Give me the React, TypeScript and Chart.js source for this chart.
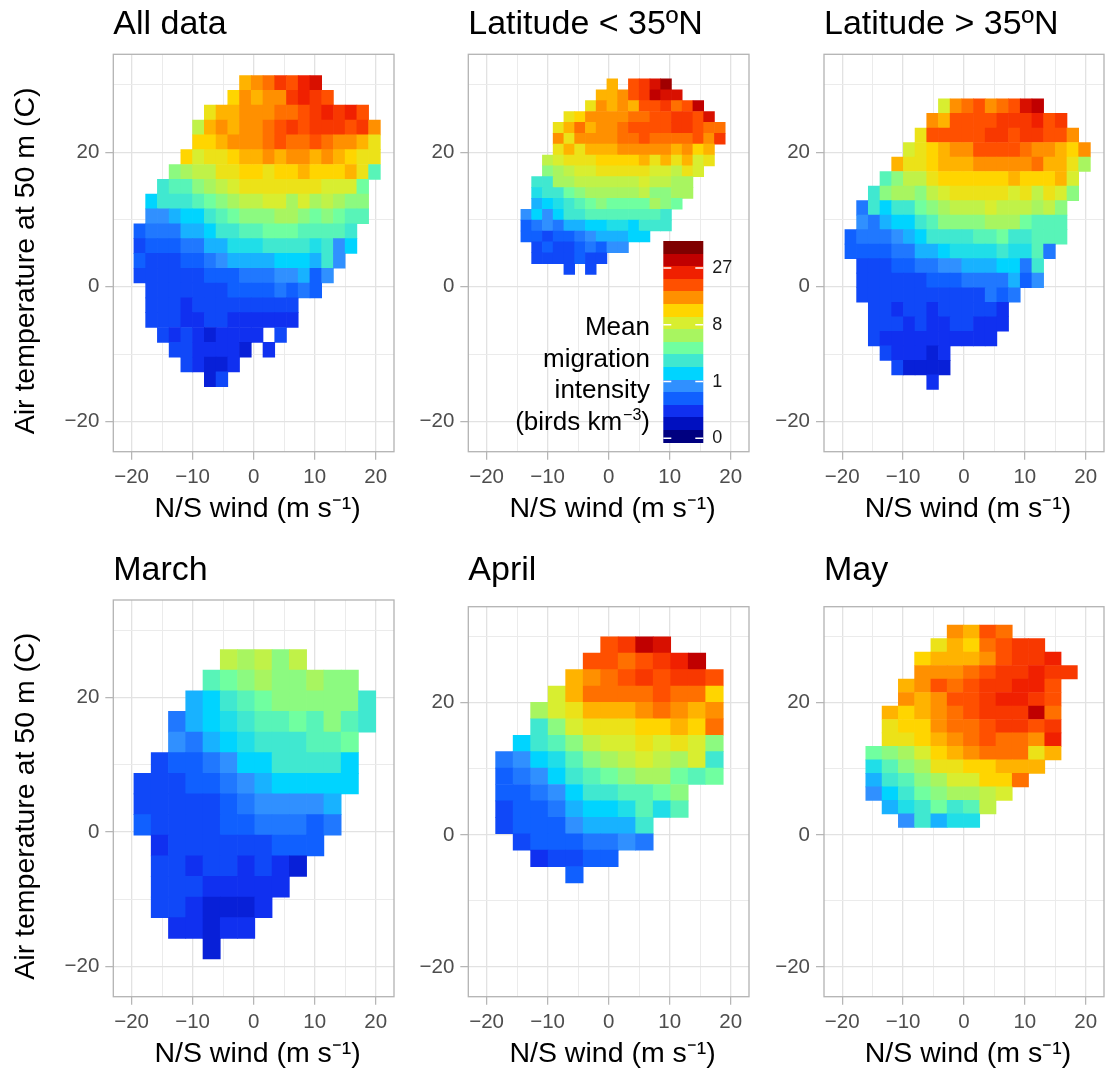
import React, { useEffect, useRef } from "react";
import { Chart, registerables } from "chart.js";

Chart.register(...registerables);
Chart.defaults.font.family = "'Liberation Sans', Arial, Helvetica, sans-serif";

// Each character is one cell: its step on the colour scale (half a legend band per step). '.' = no data.
const LEVEL_CODES = "0123456789abcdefghijklmnopqrstuv";

const panelTitles = ["All data", "Latitude < 35ºN", "Latitude > 35ºN", "March", "April", "May"];

// Bins: [first N/S wind edge, wind bin width, top temperature edge, temperature bin height]
const allDataBins = [-19.62, 1.923, 31.39, 2.202];
const allDataRows = [
  ".........lmnpoqr",
  "........kmlmmpqpo",
  "......jllmmmnnopqpqo",
  ".....hlmlmmnopopppopm",
  ".....kklmmmnonnonmmlj",
  "....kijjkllmlmmlmlkjj",
  "...fghhjjkkjkklkkkljd",
  "..cddfghijjjjjjjiiie",
  ".acccdefghhiigighgff",
  ".889aacdefffggfefedd",
  "677799accddeeeddddc",
  "56667799bbbccccbc8a",
  "655566789999aaa9c8",
  "55555566677788968",
  ".555555566667676",
  ".5554555555555",
  ".5554455444444",
  "..545434444.5",
  "...5544443.4",
  "....54334",
  "......35",
];

const lowLatBins = [-14.38, 1.762, 30.89, 1.614];
const lowLatRows = [
  "........l.oprt",
  ".......llmopsrr",
  "......jmlmloopnos",
  "....jkmmmmnnooppor",
  "...jlnlmmnoooopponn",
  "...mjmmmmnnonnnnomp",
  "...jljlllmmmmmlmkl",
  "..hijjjkkkkljljlij",
  "..fghiijjjjjiihji",
  ".ccgghhhhhhihhgg",
  ".bccefggggghffgg",
  ".9abcdefeeeegfe",
  "8a8accdddddddc",
  "678799aabbaccc",
  "6656678999aa",
  ".565567688",
  ".5555655",
  "....5.5",
];

const highLatBins = [-19.56, 1.92, 27.92, 2.158];
const highLatRows = [
  "........imnomnors",
  ".......mloooopppqop",
  "......joooooppoppoom",
  ".....ijklmmoooonmmlkm",
  "....ljjklllmmmmmnlljg",
  "...dfhhjkkkkkklkkkli",
  "..cfggfhijjjjjijhjif",
  ".7caccefghhhihhhghf",
  ".879aacdffffgggeddd",
  "677789accccddeccddd",
  "66667799abbbbcbbd7",
  ".555667788999aa7c",
  ".5555556667777968",
  ".55555555555767",
  "..554554555554",
  "..555454455444",
  "..54444444444",
  "...544434",
  "....53333",
  ".......4",
];

const marchBins = [-19.62, 2.83, 27.17, 3.07];
const marchRows = [
  ".....hghfh",
  "....defgffgff",
  "...9acdefffffc",
  "..79abcddedfdc",
  "..879abcccdde",
  ".56678aacccca",
  "55566789aaaaa",
  "555556788889",
  "655556677767",
  ".4555555666",
  ".554554543",
  ".55544444",
  ".5543334",
  "..44344",
  "....3",
];

const aprilBins = [-18.52, 2.869, 30.0, 2.486];
const aprilRows = [
  "......opsr",
  ".....oonopqs",
  "....lmnopoppo",
  "...ilnnnnonnk",
  "..gijlllmnmlm",
  "..cfijjjkklkn",
  ".acdfhiijijif",
  "78abdfghihgic",
  "678acdefggede",
  "6678accddef",
  "56679aabdbd",
  "56668999c",
  ".56667787",
  "..45566",
  "....6",
];

const mayBins = [-16.13, 2.673, 31.77, 2.042];
const mayRows = [
  ".....mlon",
  "....jlknopp",
  "...klllmoppq",
  "...mmmnoppqpp",
  "..lmonoppqqo",
  "..mlmoopqqpo",
  ".lklmnopppsn",
  ".jkkmnnoppop",
  ".jjklmnonnmq",
  "efgiklmnnnjl",
  "bdfgjjkklll",
  "9cdfgiikkn",
  "8acefgghi",
  ".9bcecdh",
  "..8c9bb",
];

// Legend (colour steps, bottom to top) and its labelled values
const legendBandColors = [
  "#000080", "#0010C0", "#1030F0", "#1060FF", "#3090FF", "#00D4FF", "#40E8D0", "#70FFA0",
  "#A8F560", "#D8EE30", "#FFD500", "#FF9000", "#FF5000", "#F02000", "#C00000", "#7F0000",
];
const legendTickValues = [0, 1, 8, 27];
const legendTitleLines = ["Mean", "migration", "intensity"];

// cube-root legend scale: position in bands = 0.35 + 4.5 * cbrt(value)
const toBand = (v: number) => 0.35 + 4.5 * Math.cbrt(v);
const codeToValue = (k: number) => Math.pow(Math.max(0, (k / 2 + 0.15) / 4.5), 3);

function hexRgb(h: string) {
  return [parseInt(h.slice(1, 3), 16), parseInt(h.slice(3, 5), 16), parseInt(h.slice(5, 7), 16)];
}
function colourFor(v: number) {
  const u = Math.min(Math.max(toBand(v) - 0.5, 0), 15);
  const i = Math.min(Math.floor(u), 14);
  const f = u - i;
  const a = hexRgb(legendBandColors[i]);
  const b = hexRgb(legendBandColors[i + 1]);
  const c = a.map((x, j) => Math.round(x + (b[j] - x) * f));
  return `rgb(${c[0]},${c[1]},${c[2]})`;
}

type Cell = { x: number; y0: number; y1: number; v: number };
function decode(rows: string[], bins: number[]): Cell[] {
  const [x0, dx, top, dy] = bins;
  const out: Cell[] = [];
  rows.forEach((row, r) => {
    for (let c = 0; c < row.length; c++) {
      const k = LEVEL_CODES.indexOf(row[c]);
      if (k < 0) continue;
      out.push({ x: x0 + (c + 0.5) * dx, y0: top - (r + 1) * dy, y1: top - r * dy, v: codeToValue(k) });
    }
  });
  return out;
}

const fmt = (v: number) => (v < 0 ? "\u2212" + Math.abs(v) : String(v));

const borderPlugin = {
  id: "panelBorder",
  afterDraw(chart: any) {
    const { ctx, chartArea } = chart;
    ctx.save();
    ctx.strokeStyle = "#B3B3B3";
    ctx.lineWidth = 1.3;
    ctx.strokeRect(chartArea.left, chartArea.top, chartArea.right - chartArea.left, chartArea.bottom - chartArea.top);
    ctx.restore();
  },
};

const colourbarPlugin = {
  id: "colourbar",
  afterDraw(chart: any) {
    const { ctx, chartArea } = chart;
    const x0 = chartArea.left + 195;
    const y0 = chartArea.top + 186.7;
    const w = 40;
    const h = 201.7;
    const n = legendBandColors.length;
    const bh = h / n;
    ctx.save();
    legendBandColors.forEach((col, i) => {
      const yb = y0 + h - i * bh;
      const yt = y0 + h - (i + 1) * bh;
      ctx.fillStyle = col;
      ctx.fillRect(x0, Math.round(yt), w, Math.round(yb) - Math.round(yt));
    });
    ctx.strokeStyle = "#FFFFFF";
    ctx.lineWidth = 1.5;
    ctx.fillStyle = "#1A1A1A";
    ctx.font = "18px 'Liberation Sans', Arial, sans-serif";
    ctx.textAlign = "left";
    ctx.textBaseline = "middle";
    legendTickValues.forEach((v) => {
      const ty = y0 + h - toBand(v) * bh;
      ctx.beginPath();
      ctx.moveTo(x0, ty);
      ctx.lineTo(x0 + 8, ty);
      ctx.moveTo(x0 + w - 8, ty);
      ctx.lineTo(x0 + w, ty);
      ctx.stroke();
      ctx.fillText(String(v), x0 + w + 9, ty);
    });
    // title
    const rx = x0 - 13.3;
    ctx.fillStyle = "#000";
    ctx.textAlign = "right";
    ctx.textBaseline = "alphabetic";
    ctx.font = "26px 'Liberation Sans', Arial, sans-serif";
    const base = [94, 125.5, 157, 188.5];
    legendTitleLines.forEach((t, i) => ctx.fillText(t, rx, y0 + base[i]));
    const by = y0 + base[3];
    ctx.fillText(")", rx, by);
    const wParen = ctx.measureText(")").width;
    ctx.font = "16px 'Liberation Sans', Arial, sans-serif";
    ctx.fillText("\u22123", rx - wParen, by - 10);
    const wSup = ctx.measureText("\u22123").width;
    ctx.font = "26px 'Liberation Sans', Arial, sans-serif";
    ctx.fillText("(birds km", rx - wParen - wSup - 1, by);
    ctx.restore();
  },
};

type PanelDef = {
  title: string; rows: string[]; bins: number[];
  left: number; top: number; w: number; h: number;
  yw: number; rp: number; xh: number; xtpb: number;
  tpt: number; tpb: number; yTitle: boolean; legend: boolean;
};

const cols = [
  { left: 0, w: 400, yw: 113.3, rp: 6, yTitle: true },
  { left: 400, w: 360, yw: 68.3, rp: 11, yTitle: false },
  { left: 760, w: 345, yw: 64, rp: 1, yTitle: false },
];
const rowsLayout = [
  { top: 0, h: 540, xh: 88.3, xtpb: 14.2, tpt: 4.5 },
  { top: 540, h: 535, xh: 78.3, xtpb: 4.2, tpt: 10.5 },
];
const titlePadBottom = [9, 9, 9, 8.7, 15.4, 15.4];
const panelRows = [allDataRows, lowLatRows, highLatRows, marchRows, aprilRows, mayRows];
const panelBins = [allDataBins, lowLatBins, highLatBins, marchBins, aprilBins, mayBins];

const panels: PanelDef[] = panelTitles.map((title, i) => {
  const c = cols[i % 3];
  const r = rowsLayout[Math.floor(i / 3)];
  return {
    title, rows: panelRows[i], bins: panelBins[i],
    left: c.left, top: r.top, w: c.w, h: r.h, yw: c.yw, rp: c.rp,
    xh: r.xh, xtpb: r.xtpb, tpt: r.tpt, tpb: titlePadBottom[i],
    yTitle: c.yTitle, legend: i === 1,
  };
});

function buildChart(canvas: HTMLCanvasElement, p: PanelDef) {
  const cells = decode(p.rows, p.bins);
  const gridColor = (major: boolean) => (major ? "#E2E2E2" : "#EBEBEB");
  return new Chart(canvas, {
    type: "bar",
    data: {
      datasets: [
        {
          data: cells.map((c) => ({ x: c.x, y: [c.y0, c.y1] })) as any,
          backgroundColor: cells.map((c) => colourFor(c.v)),
          borderWidth: 0,
          barPercentage: 1,
          categoryPercentage: 1,
        },
      ],
    },
    options: {
      responsive: false,
      animation: false,
      devicePixelRatio: 1,
      layout: { padding: { left: 0, right: p.rp, top: 0, bottom: 0 }, autoPadding: false } as any,
      plugins: {
        legend: { display: false },
        tooltip: { enabled: false },
        title: {
          display: true,
          text: p.title,
          align: "start",
          fullSize: false,
          color: "#000",
          font: { size: 34, weight: "normal" },
          padding: { top: p.tpt, bottom: p.tpb },
        },
      },
      scales: {
        x: {
          type: "linear",
          min: -23,
          max: 23,
          offset: false,
          border: { display: false },
          grid: {
            offset: false,
            color: (ctx: any) => gridColor(ctx.tick && ctx.tick.value % 10 === 0),
            lineWidth: (ctx: any) => (ctx.tick && ctx.tick.value % 10 === 0 ? 1.3 : 1),
            tickLength: 8,
            tickWidth: 1.2,
            tickColor: (ctx: any) => (ctx.tick && ctx.tick.value % 10 === 0 ? "#B3B3B3" : "rgba(0,0,0,0)"),
          },
          ticks: {
            stepSize: 5,
            includeBounds: false,
            autoSkip: false,
            maxRotation: 0,
            padding: 5,
            color: "#4D4D4D",
            font: { size: 20.5 },
            callback: (v: any) => (Number(v) % 10 === 0 ? fmt(Number(v)) : ""),
          },
          title: {
            display: true,
            text: " N/S wind (m s\u207B\u00B9)",
            color: "#000",
            font: { size: 28.5 },
            padding: { top: 0, bottom: p.xtpb },
          },
          afterFit: (s: any) => { s.height = p.xh; },
        },
        y: {
          type: "linear",
          min: -24.5,
          max: 34.55,
          border: { display: false },
          grid: {
            color: (ctx: any) => gridColor(ctx.tick && ctx.tick.value % 20 === 0),
            lineWidth: (ctx: any) => (ctx.tick && ctx.tick.value % 20 === 0 ? 1.3 : 1),
            tickLength: 8,
            tickWidth: 1.2,
            tickColor: (ctx: any) => (ctx.tick && ctx.tick.value % 20 === 0 ? "#B3B3B3" : "rgba(0,0,0,0)"),
          },
          ticks: {
            stepSize: 10,
            includeBounds: false,
            autoSkip: false,
            padding: 6,
            color: "#4D4D4D",
            font: { size: 20.5 },
            callback: (v: any) => (Number(v) % 20 === 0 ? fmt(Number(v)) : ""),
          },
          title: {
            display: p.yTitle,
            text: "Air temperature at 50 m (C)  ",
            color: "#000",
            font: { size: 28.5 },
            padding: { top: 9.5, bottom: 0 },
          },
          afterFit: (s: any) => { s.width = p.yw; },
        },
      },
    } as any,
    plugins: p.legend ? [borderPlugin, colourbarPlugin] : [borderPlugin],
  });
}

export default function App() {
  const refs = useRef<(HTMLCanvasElement | null)[]>([]);
  useEffect(() => {
    const charts = panels.map((p, i) => buildChart(refs.current[i] as HTMLCanvasElement, p));
    return () => charts.forEach((c) => c.destroy());
  }, []);
  return (
    <div style={{ position: "absolute", left: 0, top: 0, width: 1105, height: 1075, background: "#fff", overflow: "hidden" }}>
      {panels.map((p, i) => (
        <canvas
          key={i}
          ref={(el) => { refs.current[i] = el; }}
          width={p.w}
          height={p.h}
          style={{ position: "absolute", left: p.left, top: p.top, width: p.w, height: p.h, display: "block" }}
        />
      ))}
    </div>
  );
}
